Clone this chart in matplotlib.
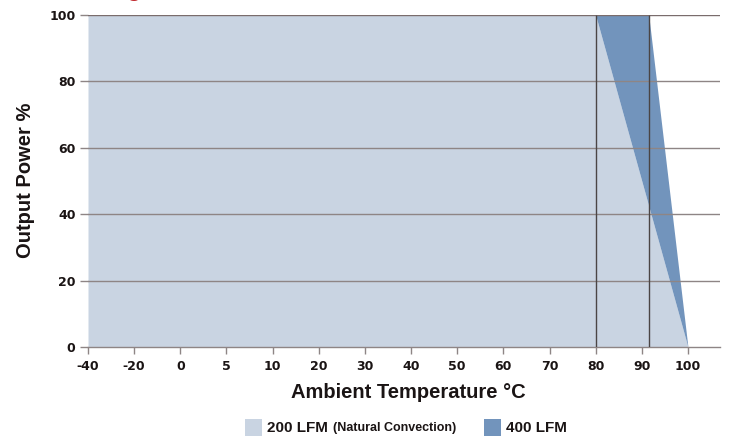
import numpy as np
import matplotlib
matplotlib.use("Agg")
import matplotlib.pyplot as plt
from matplotlib.patches import Rectangle

# tick labels on the x axis (evenly spaced, not to scale)
temp_ticks = [-40, -20, 0, 5, 10, 20, 30, 40, 50, 60, 70, 80, 90, 100]
power_ticks = [0, 20, 40, 60, 80, 100]

# derating curves
lfm200_temp = [-40, 80, 100]
lfm200_power = [100, 100, 0]
lfm400_temp = [80, 91.5, 100]
lfm400_power = [100, 100, 0]
knee_temps = [80, 91.5]

light = '#c9d4e2'
dark = '#7294bc'
grid_col = '#8e8585'
txt = '#1a1414'

tick_pos = np.arange(len(temp_ticks))
def tpos(t):
    return np.interp(t, temp_ticks, tick_pos)

fig = plt.figure(figsize=(7.32, 4.37), dpi=100)
ax = fig.add_axes([88/732, 1-347/437, 632/732, 332/437])

x200 = tpos(lfm200_temp)
x400 = tpos(lfm400_temp)
ax.fill_between(x200, lfm200_power, 0, color=light, lw=0, zorder=1)
y200_at = np.interp(x400, x200, lfm200_power)
ax.fill_between(x400, lfm400_power, y200_at, color=dark, lw=0, zorder=1)

for p in power_ticks[1:]:
    ax.axhline(p, color=grid_col if p < 100 else '#7a6c6c', lw=1.0, zorder=2)
ax.vlines(tpos(knee_temps), 0, 100, color='#4a4545', lw=1.0, zorder=3)

ax.set_xlim(0, 632/46.15)
ax.set_ylim(0, 100)
ax.set_xticks(tick_pos)
ax.set_xticklabels([str(t) for t in temp_ticks])
ax.set_yticks(power_ticks)
ax.set_yticklabels([str(p) for p in power_ticks])
for s in ['top', 'right', 'left']:
    ax.spines[s].set_visible(False)
ax.spines['bottom'].set_color(grid_col)
ax.spines['bottom'].set_linewidth(1.0)
ax.tick_params(axis='x', length=5, width=1.0, color=grid_col, pad=4, labelcolor=txt)
ax.tick_params(axis='y', length=6, width=1.0, color=grid_col, pad=3, labelcolor=txt)
for lab in ax.get_xticklabels() + ax.get_yticklabels():
    lab.set_fontfamily('DejaVu Sans')
    lab.set_fontweight('bold')
    lab.set_fontsize(9)

fig.text(408/732, 1-392/437, 'Ambient Temperature °C', ha='center', va='center',
         fontsize=14.5, fontweight='bold', family='Liberation Sans', color=txt)
fig.text(26/732, 1-180/437, 'Output Power %', ha='center', va='center', rotation=90,
         fontsize=14.5, fontweight='bold', family='Liberation Sans', color=txt)

# legend drawn by hand
fig.add_artist(Rectangle((245/732, 1-436/437), 17/732, 17/437, transform=fig.transFigure,
                         color=light, lw=0))
fig.text(267/732, 1-428/437, '200 LFM', ha='left', va='center', fontsize=11,
         fontweight='bold', family='Liberation Sans', color=txt)
fig.text(333/732, 1-428/437, '(Natural Convection)', ha='left', va='center', fontsize=9,
         fontweight='bold', family='Liberation Sans', color=txt)
fig.add_artist(Rectangle((484/732, 1-436/437), 17/732, 17/437, transform=fig.transFigure,
                         color=dark, lw=0))
fig.text(506/732, 1-428/437, '400 LFM', ha='left', va='center', fontsize=11,
         fontweight='bold', family='Liberation Sans', color=txt)

# cut-off title fragment at the very top
fig.text(134/732, 1+4/437, 'g', ha='center', va='baseline', fontsize=17,
         fontweight='bold', family='Liberation Sans', color='#c0282d')

fig.savefig('out.png', dpi=100)
